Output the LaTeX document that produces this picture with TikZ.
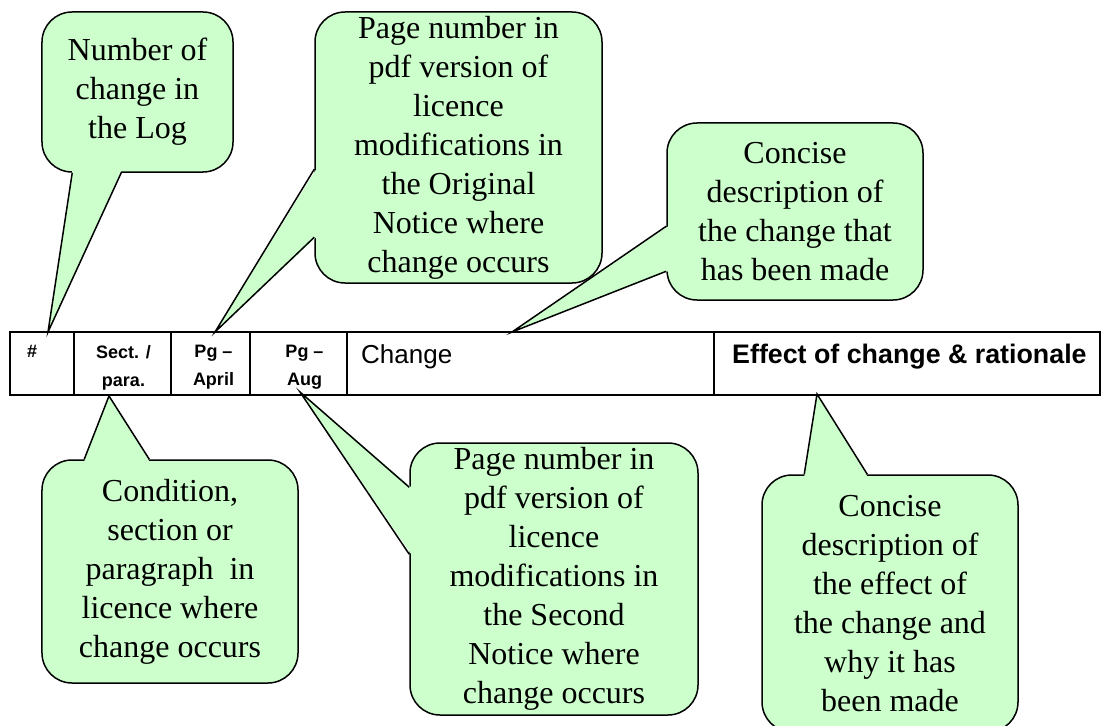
\documentclass[tikz,border=0pt]{standalone}
\usepackage{fontspec}
\setmainfont{Liberation Serif}
\setsansfont{Liberation Sans}
\usetikzlibrary{positioning,calc}
\definecolor{notegreen}{HTML}{CCFFCC}
\tikzset{
  cell/.style    ={rectangle,draw,line width=1.5bp,outer sep=0pt,inner sep=0pt,minimum height=63bp},
  colhead/.style ={font=\sffamily\bfseries\fontsize{18bp}{28bp}\selectfont,align=center,inner sep=0pt},
  bighead/.style ={font=\sffamily\fontsize{26bp}{30bp}\selectfont,inner sep=0pt},
  note/.style    ={rectangle,draw,fill=notegreen,line width=1.5bp,rounded corners=30bp,align=center,
                   inner sep=0pt,font=\rmfamily\fontsize{32bp}{39bp}\selectfont},
  tail/.style    ={line width=1.5bp}
}

\begin{document}
\begin{tikzpicture}[x=1bp,y=-1bp]
\useasboundingbox (0,0) rectangle (1102,726);

% -------- table header row --------
\node[cell, minimum width=64bp, anchor=north west] (hash) at (10,332) {};
\node[cell, minimum width=97bp, right=0pt of hash]   (sect)   {};
\node[cell, minimum width=79bp, right=0pt of sect]   (april)  {};
\node[cell, minimum width=97bp, right=0pt of april]  (aug)    {};
\node[cell, minimum width=367bp, right=0pt of aug]   (change) {};
\node[cell, minimum width=386bp, right=0pt of change] (effect) {};

% -------- column headings --------
\node[colhead, anchor=north west] (hashtxt)  at ($(hash.north west)+(17,13)$) {\#};
\node[colhead, anchor=north]      (secttxt)  at ($(sect.north)+(1,13)$)  {Sect. /\\para.};
\node[colhead, anchor=north]      (apriltxt) at ($(april.north)+(3,13)$) {Pg –\\April};
\node[colhead, anchor=north]      (augtxt)   at ($(aug.north)+(6,13)$)   {Pg –\\Aug};
\node[bighead, anchor=base west]  (changetxt) at ($(change.north west)+(14,31)$) {Change};
\node[bighead, font=\sffamily\bfseries\fontsize{26.8bp}{30bp}\selectfont, anchor=base west]
     (effecttxt) at ($(effect.north west)+(18,31)$) {Effect of change \& rationale};

% -------- where the callouts point --------
\coordinate (tiplog)  at ($(hash.north west)+(38,0)$);
\coordinate (tiporig) at ($(april.north west)+(44,0)$);
\coordinate (tipchg)  at ($(change.north west)+(165,0)$);
\coordinate (tipsect) at ($(sect.south west)+(35,1)$);
\coordinate (tipsec)  at ($(aug.south west)+(50,-3)$);
\coordinate (tipeff)  at ($(effect.south west)+(103,-1)$);

% -------- callouts --------
\node[note, minimum width=191bp, minimum height=160bp] (lognote)  at (137.5,92)
  {Number of\\change in\\the Log};
\node[note, minimum width=287bp, minimum height=271bp] (orignote) at (458.5,147.5)
  {Page number in\\pdf version of\\licence\\modifications in\\the Original\\Notice where\\change occurs};
\node[note, minimum width=256bp, minimum height=177bp] (chgnote)  at (795,211.5)
  {Concise\\description of\\the change that\\has been made};
\node[note, minimum width=256bp, minimum height=223bp] (sectnote) at (170,571.5)
  {Condition,\\section or\\paragraph\ \ in\\licence where\\change occurs};
\node[note, minimum width=288bp, minimum height=272bp] (secnote)  at (554,579)
  {Page number in\\pdf version of\\licence\\modifications in\\the Second\\Notice where\\change occurs};
\node[note, minimum width=256bp, minimum height=257bp] (effnote)  at (890,603.5)
  {Concise\\description of\\the effect of\\the change and\\why it has\\been made};

% tails: note border -> tip
\foreach \n/\c/\ax/\ay/\bx/\by/\ix/\iy/\t in {
  lognote/south west/31/0/80/0/0/-2/tiplog,
  orignote/north west/0/158/0/226/2/0/tiporig,
  chgnote/north west/0/104/0/149/2/0/tipchg,
  sectnote/north west/43/0/108/0/0/2/tipsect,
  secnote/north west/0/45/0/112/2/0/tipsec,
  effnote/north west/43/0/106/0/0/2/tipeff}
{
  \fill[notegreen] ($(\n.\c)+(\ax+\ix,\ay+\iy)$) -- (\t) -- ($(\n.\c)+(\bx+\ix,\by+\iy)$) -- cycle;
  \draw[tail] ($(\n.\c)+(\ax,\ay)$) -- (\t) -- ($(\n.\c)+(\bx,\by)$);
}

\end{tikzpicture}
\end{document}
